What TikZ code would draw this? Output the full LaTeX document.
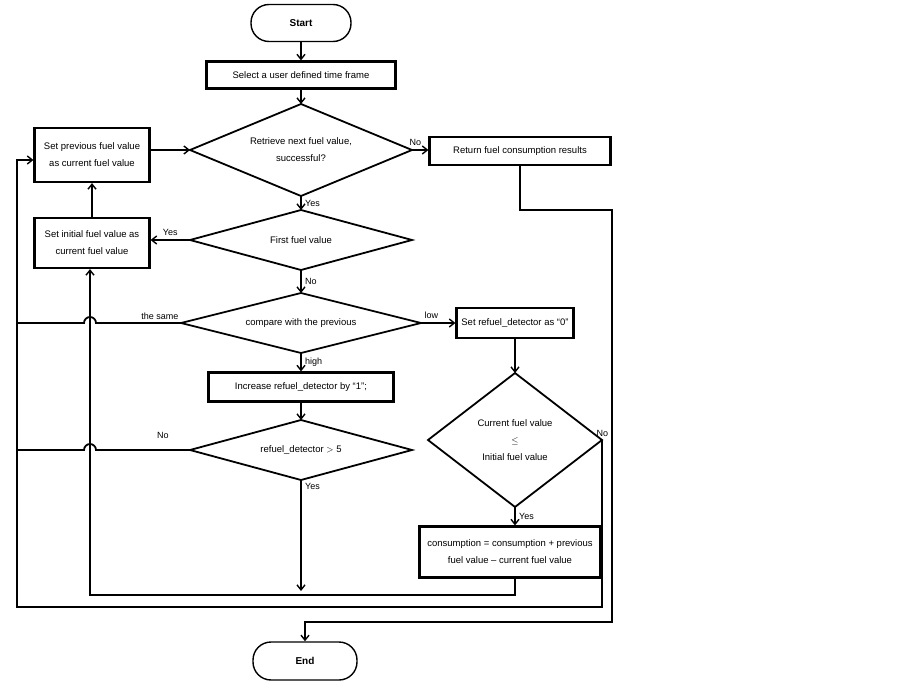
\documentclass[tikz,border=0pt]{standalone}
\usepackage{fontspec}
\setmainfont{Liberation Sans}
\usetikzlibrary{arrows.meta}
\newcommand\mydia[6]{%
  \coordinate (#1-n) at (#2,#3-#5);
  \coordinate (#1-s) at (#2,#3+#5);
  \coordinate (#1-w) at (#2-#4,#3);
  \coordinate (#1-e) at (#2+#4,#3);
  \draw[dl] (#1-n) -- (#1-e) -- (#1-s) -- (#1-w) -- cycle;
  \node[align=center] (#1) at (#2,#3) {#6};}
\begin{document}
\begin{tikzpicture}[x=1pt,y=-1pt,
  every node/.style={font=\fontsize{9.5}{17}\selectfont},
  box/.style={draw,line width=2.2pt,align=center,inner sep=0pt},
  dl/.style={line width=1.8pt,line join=miter},
  term/.style={draw,line width=1.4pt,rounded corners=18pt,font=\fontsize{10}{12}\selectfont\bfseries,inner sep=0pt},
  ln/.style={line width=1.8pt},
  ar/.style={ln,-{Straight Barb[length=5pt,width=8pt,line width=1.4pt]}},
  lab/.style={font=\fontsize{9}{11}\selectfont}]
\path[use as bounding box,fill=white] (0,0) rectangle (903,682);
\node[term,minimum width=100pt,minimum height=37pt] (start) at (301,23) {Start};
\node[box,minimum width=189pt,minimum height=27pt] (sel) at (301,75) {Select a user defined time frame};
\mydia{d1}{301}{150}{111}{46}{Retrieve next fuel value,\\successful?}
\node[box,minimum width=115pt,minimum height=54pt] (prev) at (92,155) {Set previous fuel value\\as current fuel value};
\node[box,minimum width=181pt,minimum height=28pt] (ret) at (520,151) {Return fuel consumption results};
\mydia{d2}{301}{240}{111}{30}{First fuel value}
\node[box,minimum width=115pt,minimum height=50pt] (init) at (92,243) {Set initial fuel value as\\current fuel value};
\mydia{d3}{301}{323}{120}{30}{compare with the previous}
\node[box,minimum width=117pt,minimum height=30pt] (rz) at (515,323) {Set refuel\_detector as ``0''};
\node[box,minimum width=185pt,minimum height=29pt] (inc) at (301,387) {Increase refuel\_detector by ``1'';};
\mydia{d4}{301}{450}{111}{30}{refuel\_detector $>$ 5}
\mydia{d5}{515}{440}{87}{67}{Current fuel value\\$\leq$\\Initial fuel value}
\node[box,minimum width=181pt,minimum height=51pt] (cons) at (510,552) {consumption = consumption + previous\\fuel value -- current fuel value};
\node[term,minimum width=104pt,minimum height=38pt] (end) at (305,661) {End};
\coordinate (j1) at (301,591);
\coordinate (j2) at (17,160);

\draw[ar] (start) -- (sel);
\draw[ar] (sel) -- (d1-n);
\draw[ar] (prev.east |- d1-w) -- (d1-w);
\draw[ar] (d1-e) -- (ret.west |- d1-e) node[lab,above,pos=0.2] {No};
\draw[ar] (d1-s) -- (d2-n) node[lab,right,midway] {Yes};
\draw[ar] (d2-w) -- (init.east |- d2-w) node[lab,above,pos=0.5] {Yes};
\draw[ar] (init.north) -- (prev.south);
\draw[ar] (d2-s) -- (d3-n) node[lab,right,midway] {No};
\draw[ar] (d3-e) -- (rz.west) node[lab,above,pos=0.3] {low};
\draw[ar] (rz.south) -- (d5-n);
\draw[ar] (d3-s) -- (inc.north) node[lab,right,midway] {high};
\draw[ar] (inc) -- (d4-n);
\draw[ar] (d5-s) -- (cons.north -| d5-s) node[lab,right,midway] {Yes};
\draw[ar] (d4-s) -- (j1) node[lab,right,pos=0.06] {Yes};
% the same / No hops
\draw[ln] (d3-w) -- (96,323) arc[start angle=0,end angle=180,radius=6pt] -- (17,323);
\node[lab,above] at (160,323) {the same};
\draw[ln] (d4-w) -- (96,450) arc[start angle=0,end angle=180,radius=6pt] -- (17,450);
\node[lab,above] at (163,442) {No};
% outer loop
\draw[ar] (d5-e) -- (602,607) -- (17,607) -- (j2) -- (prev.west |- j2);
\node[lab,above right] at (593,440) {No};
% consumption back to set initial
\draw[ar] (cons.south -| 515,0) -- (515,595) -- (90,595) -- (init.south -| 90,0);
% return to end
\draw[ar] (ret.south) -- (520,210) -- (612,210) -- (612,622) -- (305,622) -- (end.north);
\end{tikzpicture}
\end{document}
